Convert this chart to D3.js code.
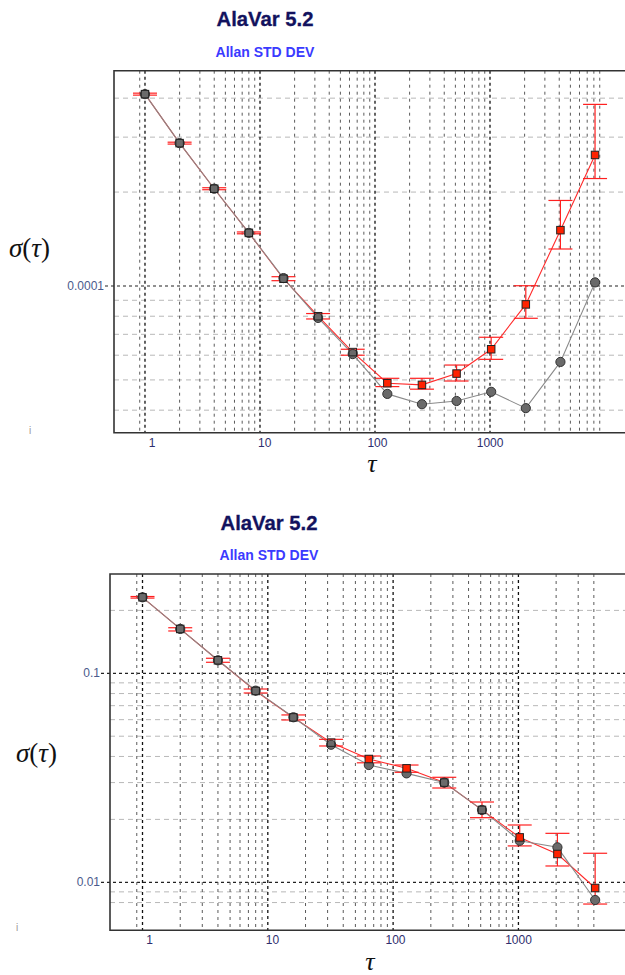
<!DOCTYPE html>
<html><head><meta charset="utf-8">
<script src="https://cdn.jsdelivr.net/npm/d3@7"></script>
<style>body{margin:0;background:#fff}svg{display:block}</style>
</head><body>
<svg id="c" width="625" height="975"></svg>
<script>
// ---------- DATA ----------
const title = "AlaVar 5.2";
const subtitle = "Allan STD DEV";

// Top chart
const tauA = [1,2,4,8,16,32,64,128,256,512,1024,2048,4096,8192];
const grayA = [4.12e-4,2.87e-4,2.05e-4,1.48e-4,1.06e-4,7.9e-5,6.05e-5,4.51e-5,4.18e-5,4.28e-5,4.58e-5,4.06e-5,5.71e-5,1.027e-4];
const redA  = [4.12e-4,2.87e-4,2.05e-4,1.48e-4,1.055e-4,8.0e-5,6.14e-5,4.88e-5,4.82e-5,5.24e-5,6.27e-5,8.73e-5,1.51e-4,2.63e-4];
const redLoA = [4.09e-4,2.85e-4,2.035e-4,1.47e-4,1.04e-4,7.84e-5,6.0e-5,4.76e-5,4.67e-5,4.96e-5,5.82e-5,7.88e-5,1.314e-4,2.21e-4];
const redHiA = [4.15e-4,2.89e-4,2.065e-4,1.49e-4,1.071e-4,8.16e-5,6.27e-5,5.06e-5,5.06e-5,5.58e-5,6.85e-5,1.002e-4,1.88e-4,3.82e-4];
const xGridA = [0.9,1,2,3,4,5,6,7,8,9,10,20,30,40,50,60,70,80,90,100,200,300,400,500,600,700,800,900,1000,2000,3000,4000,5000,6000,7000,8000,9000];
const yGridA = [4e-5,5e-5,6e-5,7e-5,8e-5,9e-5,1e-4,2e-4,3e-4,4e-4];
const xLabelsA = [1,10,100,1000];
const yLabelsA = [{v:1e-4,t:"0.0001"}];

// Bottom chart
const tauB = [1,2,4,8,16,32,64,128,256,512,1024,2048,4096];
const grayB = [0.231,0.163,0.1154,0.0826,0.0616,0.0455,0.0364,0.0332,0.0300,0.0222,0.0158,0.0147,0.00823];
const redB  = [0.231,0.163,0.1154,0.0823,0.0615,0.0466,0.0389,0.0351,0.0300,0.0222,0.0164,0.01366,0.00939];
const redLoB = [0.229,0.1594,0.1129,0.0805,0.0598,0.0449,0.0373,0.0336,0.02826,0.02038,0.01493,0.01197,0.00787];
const redHiB = [0.233,0.1652,0.118,0.0841,0.0632,0.0483,0.0402,0.0364,0.0318,0.02422,0.0188,0.01715,0.01377];
const xGridB = [0.9,1,2,3,4,5,6,7,8,9,10,20,30,40,50,60,70,80,90,100,200,300,400,500,600,700,800,900,1000,2000,3000,4000];
const yGridB = [0.008,0.009,0.01,0.02,0.03,0.04,0.05,0.06,0.07,0.08,0.09,0.1,0.2];
const xLabelsB = [1,10,100,1000];
const yLabelsB = [{v:0.1,t:"0.1"},{v:0.01,t:"0.01"}];

// ---------- DRAW ----------
const svg = d3.select("#c");

function isMajor(v){ const l = Math.log10(v); return Math.abs(l - Math.round(l)) < 1e-9; }

function drawChart(o){
  const g = svg.append("g");
  const x = d3.scaleLog().domain(o.xDomain).range([o.left, o.right]);
  const y = d3.scaleLog().domain(o.yDomain).range([o.bottom, o.top]);

  // titles
  g.append("text").attr("x", o.titleX).attr("y", o.titleY).attr("text-anchor","middle")
    .attr("font-family","Liberation Sans, Arial, sans-serif").attr("font-weight","bold")
    .attr("font-size",21).attr("fill","#12125e").attr("stroke","#12125e").attr("stroke-width",0.3)
    .attr("textLength",97).attr("lengthAdjust","spacingAndGlyphs").text(title);
  g.append("text").attr("x", o.titleX).attr("y", o.subY).attr("text-anchor","middle")
    .attr("font-family","Liberation Sans, Arial, sans-serif").attr("font-weight","bold")
    .attr("font-size",14).attr("fill","#3a3aff").text(subtitle);

  // horizontal grid
  o.yGrid.forEach(v=>{
    const maj = isMajor(v);
    g.append("line").attr("x1", maj ? o.left-9 : o.left).attr("x2", o.right)
      .attr("y1", y(v)).attr("y2", y(v))
      .attr("stroke", maj ? "#222" : "#b8b8b8").attr("stroke-width", maj?1.2:1)
      .attr("stroke-dasharray", maj ? "3,3" : "5,4");
  });
  // vertical grid
  o.xGrid.forEach(v=>{
    const maj = isMajor(v);
    g.append("line").attr("x1", x(v)).attr("x2", x(v))
      .attr("y1", o.top).attr("y2", o.bottom)
      .attr("stroke", maj ? "#111" : "#5a5a5a").attr("stroke-width", maj?1.3:1)
      .attr("stroke-dasharray", maj ? "3,3" : "3,4");
  });

  // frame
  g.append("path").attr("d", `M${o.right},${o.top}H${o.left}V${o.bottom}H${o.right}`)
    .attr("fill","none").attr("stroke","#333").attr("stroke-width",1.6);

  // x labels
  o.xLabels.forEach(v=>{
    const s = String(v);
    g.append("text").attr("x", x(v) + 7 - 2.3*(s.length-1)).attr("y", o.bottom+14)
      .attr("text-anchor","middle").attr("font-family","Liberation Sans, Arial, sans-serif")
      .attr("font-size",12).attr("fill","#2e2e6e").text(s);
  });
  // y labels
  o.yLabels.forEach(d=>{
    g.append("text").attr("x", o.left-10).attr("y", y(d.v)+4)
      .attr("text-anchor","end").attr("font-family","Liberation Sans, Arial, sans-serif")
      .attr("font-size",12).attr("fill","#4a5a8c").text(d.t);
  });

  // axis titles
  const yt = g.append("text").attr("x", o.yTitleX).attr("y", o.yTitleY)
    .attr("font-family","Liberation Serif, Times New Roman, serif").attr("font-size",27).attr("fill","#111");
  yt.append("tspan").attr("font-style","italic").text("σ");
  yt.append("tspan").text("(");
  yt.append("tspan").attr("font-style","italic").text("τ");
  yt.append("tspan").text(")");
  g.append("text").attr("x", o.xTitleX).attr("y", o.xTitleY).attr("text-anchor","middle")
    .attr("font-family","Liberation Serif, Times New Roman, serif").attr("font-style","italic")
    .attr("font-size",26).attr("fill","#111").text("τ");
  g.append("text").attr("x", o.iX).attr("y", o.iY).attr("font-family","Liberation Sans, Arial, sans-serif")
    .attr("font-size",10).attr("fill","#999").text("i");

  const line = d3.line().x(d=>x(d[0])).y(d=>y(d[1]));
  const redPts = o.tau.map((t,i)=>[t,o.red[i]]);
  const grayPts = o.tau.map((t,i)=>[t,o.gray[i]]);

  g.append("path").attr("d", line(redPts)).attr("fill","none").attr("stroke","#ff2a2a").attr("stroke-width",1.1);
  g.append("path").attr("d", line(grayPts)).attr("fill","none").attr("stroke","#8a8a8a").attr("stroke-width",1.1);

  // error bars
  const cap = 12;
  o.tau.forEach((t,i)=>{
    const cx = x(t), y1 = y(o.lo[i]), y2 = y(o.hi[i]);
    g.append("line").attr("x1",cx).attr("x2",cx).attr("y1",y1).attr("y2",y2).attr("stroke","#ff2020").attr("stroke-width",1.2);
    g.append("line").attr("x1",cx-cap).attr("x2",cx+cap).attr("y1",y1).attr("y2",y1).attr("stroke","#ff2020").attr("stroke-width",1.2);
    g.append("line").attr("x1",cx-cap).attr("x2",cx+cap).attr("y1",y2).attr("y2",y2).attr("stroke","#ff2020").attr("stroke-width",1.2);
  });

  // gray circles
  g.selectAll(null).data(grayPts).enter().append("circle")
    .attr("cx",d=>x(d[0])).attr("cy",d=>y(d[1])).attr("r",4.6)
    .attr("fill","#6a6a6a").attr("stroke","#333").attr("stroke-width",1);
  // red squares
  const sq = 7.5;
  g.selectAll(null).data(redPts.filter((d,i)=>Math.abs(y(d[1])-y(o.gray[i]))>2.5)).enter().append("rect")
    .attr("x",d=>x(d[0])-sq/2).attr("y",d=>y(d[1])-sq/2).attr("width",sq).attr("height",sq)
    .attr("fill","#ff2200").attr("stroke","#222").attr("stroke-width",1);
  // coincident markers: square outline around circle
  g.selectAll(null).data(redPts.filter((d,i)=>Math.abs(y(d[1])-y(o.gray[i]))<=2.5)).enter().append("rect")
    .attr("x",d=>x(d[0])-sq/2).attr("y",d=>y(d[1])-sq/2).attr("width",sq).attr("height",sq)
    .attr("fill","none").attr("stroke","#222").attr("stroke-width",1);
}

drawChart({
  left:114, right:640, top:70.7, bottom:432.7,
  xDomain:[0.5377, 20150], yDomain:[3.387e-5, 4.898e-4],
  titleX:265, titleY:26, subY:57,
  yTitleX:9, yTitleY:257, xTitleX:372, xTitleY:472, iX:29, iY:434,
  tau:tauA, gray:grayA, red:redA, lo:redLoA, hi:redHiA,
  xGrid:xGridA, yGrid:yGridA, xLabels:xLabelsA, yLabels:yLabelsA
});
drawChart({
  left:110, right:640, top:574, bottom:930.3,
  xDomain:[0.5503, 9339], yDomain:[0.005893, 0.2986],
  titleX:269, titleY:530, subY:560,
  yTitleX:16, yTitleY:762, xTitleX:370, xTitleY:970, iX:16, iY:931,
  tau:tauB, gray:grayB, red:redB, lo:redLoB, hi:redHiB,
  xGrid:xGridB, yGrid:yGridB, xLabels:xLabelsB, yLabels:yLabelsB
});
</script>
</body></html>
